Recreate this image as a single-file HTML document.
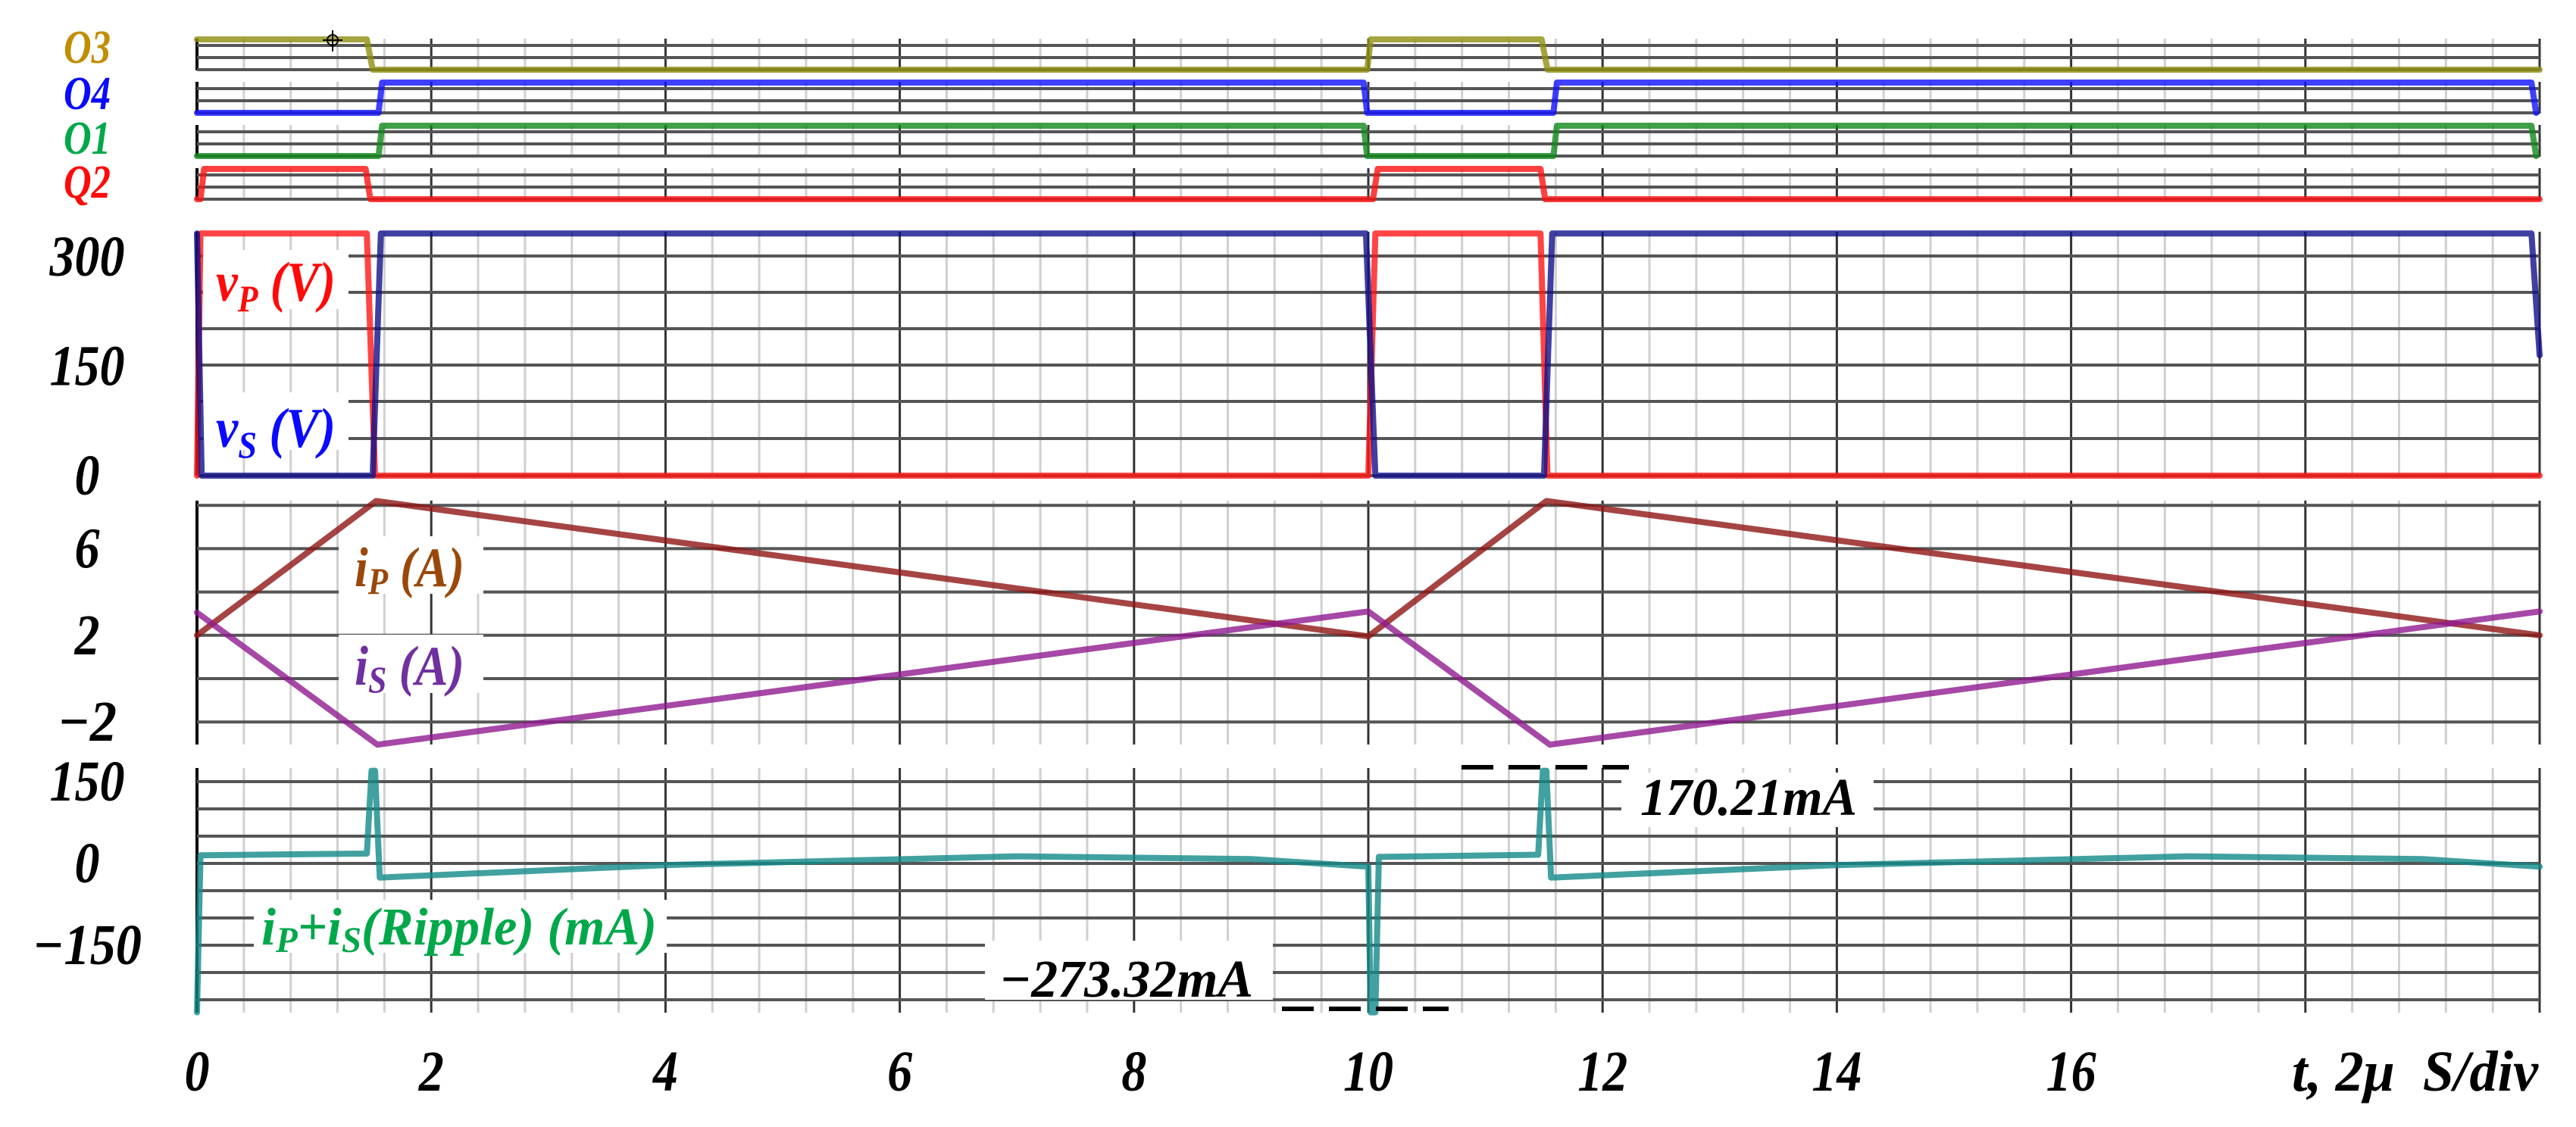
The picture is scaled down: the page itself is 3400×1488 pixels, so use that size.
<!DOCTYPE html>
<html><head><meta charset="utf-8"><style>
html,body{margin:0;padding:0;background:#fff;}
svg{display:block;}
text{font-family:"Liberation Serif",serif;font-weight:bold;font-style:italic;}
</style></head><body>
<svg id="chart" width="3400" height="1488" viewBox="0 0 3400 1488" xmlns="http://www.w3.org/2000/svg">
<g id="grid"></g>
<g id="boxes"></g>
<g id="traces"></g>
<g id="labels"></g>
</svg>
<script>
// ---- data ----
const xTickLabels = ["0","2","4","6","8","10","12","14","16"];
const xTickValues = [0,2,4,6,8,10,12,14,16];
const vTickLabels = ["300","150","0"];
const vTickValues = [300,150,0];
const iTickLabels = ["6","2","\u22122"];
const iTickValues = [6,2,-2];
const rTickLabels = ["150","0","\u2212150"];
const rTickValues = [150,0,-150];

const o3T = [0,1.45,1.5,9.99,10.02,11.48,11.53,20];
const o3V = [1,1,0,0,1,1,0,0];
const o4T = [0,1.55,1.58,9.96,9.99,11.58,11.61,19.93,19.97];
const o4V = [0,0,1,1,0,0,1,1,0];
const o1T = [0,1.55,1.58,9.96,9.99,11.58,11.61,19.93,19.97];
const o1V = [0,0,1,1,0,0,1,1,0];
const q2T = [0,0.03,0.06,1.44,1.48,10.04,10.08,11.47,11.51,20];
const q2V = [0,0,1,1,0,0,1,1,0,0];

const vpT = [0,0.03,1.45,1.52,10.0,10.06,11.47,11.53,20];
const vpV = [0,332,332,0,0,332,332,0,0];
const vsT = [0,0.04,1.5,1.57,9.98,10.06,11.5,11.57,19.93,20];
const vsV = [332,0,0,332,332,0,0,332,332,165];

const ipT = [0,1.53,10.0,11.52,20];
const ipV = [2.0,8.2,1.95,8.2,2.0];
const isT = [0,1.54,10.0,11.55,20];
const isV = [3.05,-3.05,3.1,-3.05,3.1];

const rT = [0,0.03,1.45,1.49,1.52,1.56,4,7,9,10,10.02,10.06,10.09,11.45,11.49,11.52,11.56,14,17,19,20];
const rV = [-273,15,18,170,170,-26,-3,13,8,-6,-273,-273,12,16,170,170,-26,-3,13,8,-6];

// ---- layout ----
const X0=260, XU=154.6;
const sx = t => X0 + t*XU;
const panels = {
  o3:{hi:52,lo:92,top:51,bot:93,lines:[60,76,92]},
  o4:{hi:109,lo:149,top:108,bot:150,lines:[117,133,149]},
  o1:{hi:166,lo:206,top:165,bot:207,lines:[174,190,206]},
  q2:{hi:223,lo:263,top:222,bot:264,lines:[231,247,263]}
};
const vY = v => 628 - v*0.963;
const iY = a => 896 - a*28.6;
const rY = m => 1140 - m*0.72;
const NS='http://www.w3.org/2000/svg';
function mk(tag, attrs, parent){const e=document.createElementNS(NS,tag);for(const k in attrs)e.setAttribute(k,attrs[k]);parent.appendChild(e);return e;}
const grid=document.getElementById('grid'), traces=document.getElementById('traces'), labels=document.getElementById('labels'), boxes=document.getElementById('boxes');

function vgrid(top,bot){
  for(let k=0;k<=50;k++){
    const t=k*0.4, major=(k%5===0);
    const l=mk('line',{x1:sx(t),x2:sx(t),y1:top,y2:bot,stroke:major?'#333':'#d0d0d0','stroke-width':3},grid);
    
    
  }
  const a=mk('line',{x1:X0,x2:X0,y1:top,y2:bot,stroke:'#000','stroke-width':4},grid);
  
  
}
function hline(y){
  const l=mk('line',{x1:X0,x2:sx(20),y1:y,y2:y,stroke:'#555','stroke-width':4},grid);
  
  
}
for(const k in panels){const p=panels[k];vgrid(p.top,p.bot);p.lines.forEach(hline);}
vgrid(306,628);[338,386,434,482,530,579,628].forEach(hline);
vgrid(661,983);[-2,0,2,4,6,8].forEach(a=>hline(iY(a)));
vgrid(1014,1337);[150,100,50,0,-50,-100,-150,-200,-250].forEach(m=>hline(rY(m)));

function poly(T,V,fy,color,name,w){
  const pts=T.map((t,i)=>sx(t).toFixed(1)+','+fy(V[i]).toFixed(1)).join(' ');
  const p=mk('polyline',{points:pts,fill:'none',stroke:color,'stroke-width':w||8,'stroke-linejoin':'round','stroke-linecap':'round','stroke-opacity':0.8},traces);
  
  
}
function dig(p){return v=>v?p.hi:p.lo;}
poly(o3T,o3V,dig(panels.o3),'#8f8f10','o3-trace');
poly(o4T,o4V,dig(panels.o4),'#1010ff','o4-trace');
poly(o1T,o1V,dig(panels.o1),'#10881a','o1-trace');
poly(q2T,q2V,dig(panels.q2),'#ff1010','q2-trace');
poly(vpT,vpV,vY,'#ff1515','vp-trace');
poly(vsT,vsV,vY,'#10108a','vs-trace');
poly(ipT,ipV,iY,'#901515','ip-trace');
poly(isT,isV,iY,'#901a90','is-trace');
poly(rT,rV,rY,'#128a88','ripple-trace',8);

function box(x,y,w,h,name){const r=mk('rect',{x:x,y:y,width:w,height:h,fill:'#fff'},boxes);}
box(268,330,192,78,'vp-label-box');
box(268,518,192,76,'vs-label-box');
box(447,708,191,76,'ip-label-box');
box(447,838,191,77,'is-label-box');
box(335,1188,545,70,'ripple-label-box');
box(2140,1020,333,72,'max-label-box');
box(1300,1242,380,78,'min-label-box');

function txt(x,y,s,size,color,anchor,name,len){
  const t=mk('text',{x:x,y:y,'font-size':size,fill:color,'text-anchor':anchor||'start'},labels);
  if(len){t.setAttribute('textLength',len);t.setAttribute('lengthAdjust','spacingAndGlyphs');}
  t.innerHTML=s;
  
  
  return t;
}
txt(84,83,'O3',62,'#c08e00','start','o3-label',62);
txt(84,144,'O4',62,'#0a0aff','start','o4-label',62);
txt(84,203,'O1',62,'#00a84a','start','o1-label',62);
txt(84,261,'Q2',62,'#ff0a0a','start','q2-label',62);

function tlen(s){let w=0;for(const ch of s){w+= ch==='\u2212'?45:33;}return w;}
vTickValues.forEach((v,i)=>txt(115,vY(v)+25,vTickLabels[i],76,'#000','middle','v-tick-label',tlen(vTickLabels[i])));
iTickValues.forEach((v,i)=>txt(115,iY(v)+25,iTickLabels[i],76,'#000','middle','i-tick-label',tlen(iTickLabels[i])));
rTickValues.forEach((v,i)=>txt(115,rY(v)+25,rTickLabels[i],76,'#000','middle','r-tick-label',tlen(rTickLabels[i])));
xTickValues.forEach((v,i)=>txt(sx(v),1440,xTickLabels[i],76,'#000','middle','x-tick-label',tlen(xTickLabels[i])));
txt(3025,1440,'t, 2\u03bc&#160; S/div',76,'#000','start','x-axis-title',325);

txt(285,397,'v<tspan font-size="50" dy="14">P</tspan><tspan dy="-14"> (V)</tspan>',74,'#ff0a0a','start','vp-label',158);
txt(285,590,'v<tspan font-size="50" dy="14">S</tspan><tspan dy="-14"> (V)</tspan>',74,'#0a0aff','start','vs-label',158);
txt(468,774,'i<tspan font-size="50" dy="10">P</tspan><tspan dy="-10"> (A)</tspan>',74,'#9a480a','start','ip-label',145);
txt(468,904,'i<tspan font-size="50" dy="10">S</tspan><tspan dy="-10"> (A)</tspan>',74,'#7030a0','start','is-label',145);
txt(345,1247,'i<tspan font-size="48" dy="10">P</tspan><tspan dy="-10">+i</tspan><tspan font-size="48" dy="10">S</tspan><tspan dy="-10">(Ripple) (mA)</tspan>',70,'#00a84a','start','ripple-label',522);
txt(2165,1076,'170.21mA',70,'#000','start','max-value-label',286);
txt(1319,1316,'\u2212273.32mA',70,'#000','start','min-value-label',335);

const d1=mk('line',{x1:1929,x2:2150,y1:1013,y2:1013,stroke:'#000','stroke-width':6,'stroke-dasharray':'42 20'},labels);


const d2=mk('line',{x1:1692,x2:1912,y1:1332,y2:1332,stroke:'#000','stroke-width':6,'stroke-dasharray':'42 20'},labels);


const c=mk('g',{stroke:'#000','stroke-width':2,fill:'none'},labels);


mk('circle',{cx:439,cy:53,r:7},c);
mk('line',{x1:439,x2:439,y1:40,y2:68},c);
mk('line',{x1:426,x2:452,y1:53,y2:53},c);
</script>
</body></html>
